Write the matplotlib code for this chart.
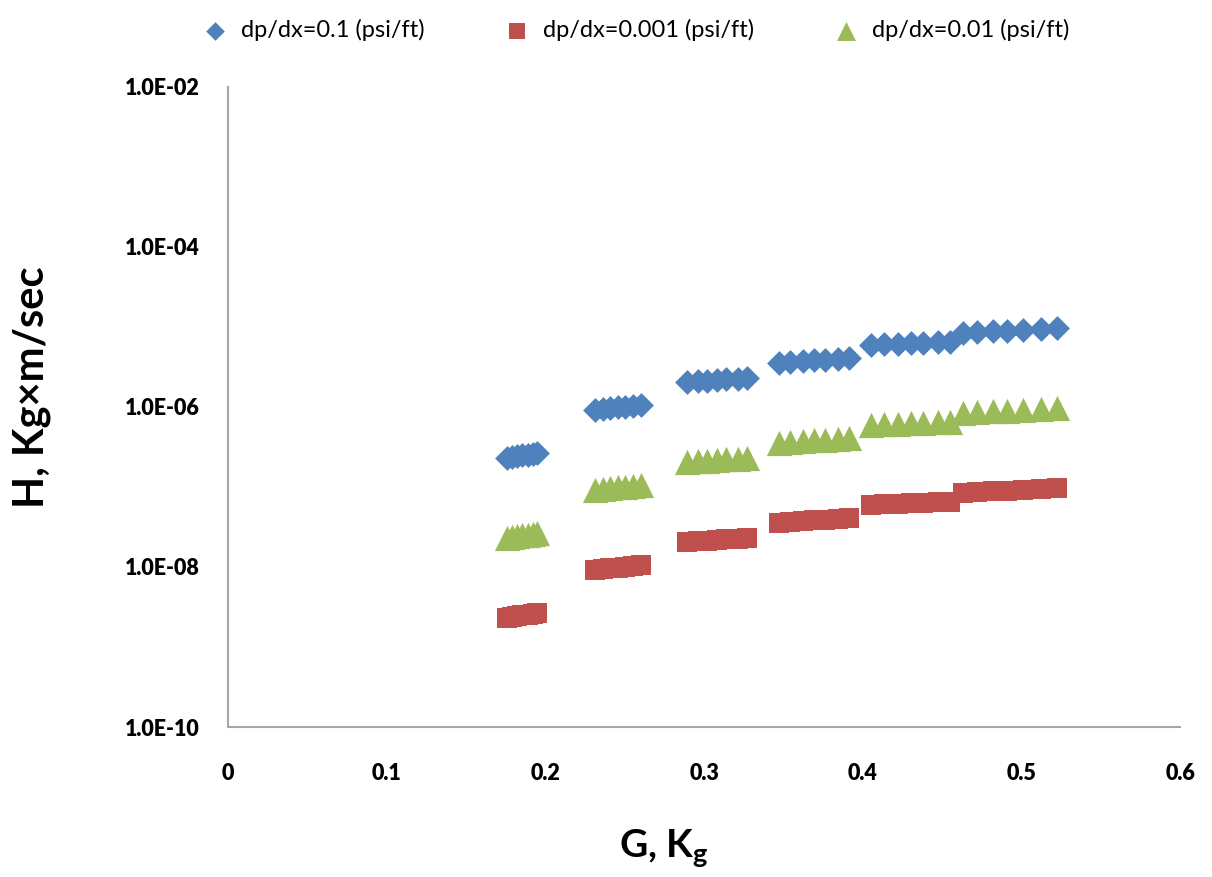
import matplotlib
matplotlib.use("Agg")
from matplotlib import pyplot as plt
from matplotlib.ticker import FixedLocator, FuncFormatter

# G, Kg values (same for every series)
g_vals = [
    0.176, 0.179, 0.182, 0.185, 0.189, 0.192, 0.195,
    0.231, 0.236, 0.241, 0.246, 0.250, 0.255, 0.260,
    0.289, 0.296, 0.302, 0.308, 0.314, 0.321, 0.327,
    0.347, 0.354, 0.362, 0.369, 0.376, 0.384, 0.391,
    0.405, 0.413, 0.422, 0.430, 0.438, 0.447, 0.455,
    0.463, 0.472, 0.482, 0.491, 0.501, 0.512, 0.522,
]

# H, Kg*m/sec
h_01 = [
    2.30e-7, 2.36e-7, 2.42e-7, 2.48e-7, 2.54e-7, 2.60e-7, 2.66e-7,
    9.1e-7, 9.35e-7, 9.6e-7, 9.85e-7, 1.01e-6, 1.035e-6, 1.06e-6,
    2.05e-6, 2.09e-6, 2.13e-6, 2.17e-6, 2.21e-6, 2.25e-6, 2.30e-6,
    3.55e-6, 3.64e-6, 3.73e-6, 3.82e-6, 3.91e-6, 4.00e-6, 4.10e-6,
    5.96e-6, 6.05e-6, 6.14e-6, 6.23e-6, 6.32e-6, 6.41e-6, 6.50e-6,
    8.40e-6, 8.60e-6, 8.80e-6, 9.00e-6, 9.20e-6, 9.45e-6, 9.70e-6,
]
h_0001 = [
    2.30e-9, 2.36e-9, 2.42e-9, 2.48e-9, 2.54e-9, 2.60e-9, 2.66e-9,
    9.1e-9, 9.35e-9, 9.6e-9, 9.85e-9, 1.01e-8, 1.035e-8, 1.06e-8,
    2.05e-8, 2.09e-8, 2.13e-8, 2.17e-8, 2.21e-8, 2.25e-8, 2.30e-8,
    3.55e-8, 3.64e-8, 3.73e-8, 3.82e-8, 3.91e-8, 4.00e-8, 4.10e-8,
    5.96e-8, 6.05e-8, 6.14e-8, 6.23e-8, 6.32e-8, 6.41e-8, 6.50e-8,
    8.40e-8, 8.60e-8, 8.80e-8, 9.00e-8, 9.20e-8, 9.45e-8, 9.70e-8,
]
h_001 = [
    2.30e-8, 2.36e-8, 2.42e-8, 2.48e-8, 2.54e-8, 2.60e-8, 2.66e-8,
    9.1e-8, 9.35e-8, 9.6e-8, 9.85e-8, 1.01e-7, 1.035e-7, 1.06e-7,
    2.05e-7, 2.09e-7, 2.13e-7, 2.17e-7, 2.21e-7, 2.25e-7, 2.30e-7,
    3.55e-7, 3.64e-7, 3.73e-7, 3.82e-7, 3.91e-7, 4.00e-7, 4.10e-7,
    5.96e-7, 6.05e-7, 6.14e-7, 6.23e-7, 6.32e-7, 6.41e-7, 6.50e-7,
    8.40e-7, 8.60e-7, 8.80e-7, 9.00e-7, 9.20e-7, 9.45e-7, 9.70e-7,
]

series_labels = ["dp/dx=0.1 (psi/ft)", "dp/dx=0.001 (psi/ft)", "dp/dx=0.01 (psi/ft)"]
x_ticks = [0, 0.1, 0.2, 0.3, 0.4, 0.5, 0.6]
y_ticks = [1e-10, 1e-8, 1e-6, 1e-4, 1e-2]

plt.rcParams["font.family"] = ["Lato", "DejaVu Sans"]
plt.rcParams["font.weight"] = "bold"

fig = plt.figure(figsize=(12.12, 8.77), dpi=100)
ax = fig.add_axes([0.188, 0.171, 0.786, 0.730])

ax.scatter(g_vals, h_01, marker="D", s=160, color="#4F81BD", label=series_labels[0],
           linewidths=0, zorder=3)
ax.scatter(g_vals, h_0001, marker="s", s=210, color="#C0504D", label=series_labels[1],
           linewidths=0, zorder=3)
ax.scatter(g_vals, h_001, marker="^", s=330, color="#9BBB59", label=series_labels[2],
           linewidths=0, zorder=3)

ax.set_yscale("log")
ax.set_xlim(0, 0.6)
ax.set_ylim(1e-10, 1e-2)
ax.xaxis.set_major_locator(FixedLocator(x_ticks))
ax.yaxis.set_major_locator(FixedLocator(y_ticks))
ax.yaxis.set_minor_locator(FixedLocator([]))
ax.xaxis.set_major_formatter(FuncFormatter(lambda v, p: "0" if v == 0 else f"{v:g}"))
ax.yaxis.set_major_formatter(FuncFormatter(lambda v, p: f"{v:.1E}"))

ax.tick_params(axis="both", length=0, labelsize=15.5)
ax.tick_params(axis="x", pad=26)
ax.tick_params(axis="y", pad=20)
for lab in ax.get_xticklabels() + ax.get_yticklabels():
    lab.set_fontweight("heavy")

for side in ["top", "right"]:
    ax.spines[side].set_visible(False)
for side in ["left", "bottom"]:
    ax.spines[side].set_color("#A6A6A6")
    ax.spines[side].set_linewidth(1.5)

fig.text(0.548, 1 - 858 / 877, r"G, K$_\mathregular{g}$", fontsize=28, fontweight="bold",
         ha="center", va="baseline")
fig.text(0.026, 1 - 387 / 877, "H, Kg×m/sec", fontsize=30, fontweight="bold",
         rotation=90, ha="center", va="center")

leg = fig.legend(loc="upper center", bbox_to_anchor=(0.52, 1.003), ncol=3, frameon=False,
                 prop={"size": 17, "weight": "normal"}, handletextpad=0.1,
                 columnspacing=2.9, markerscale=0.75)

fig.savefig("out.png", dpi=100)
